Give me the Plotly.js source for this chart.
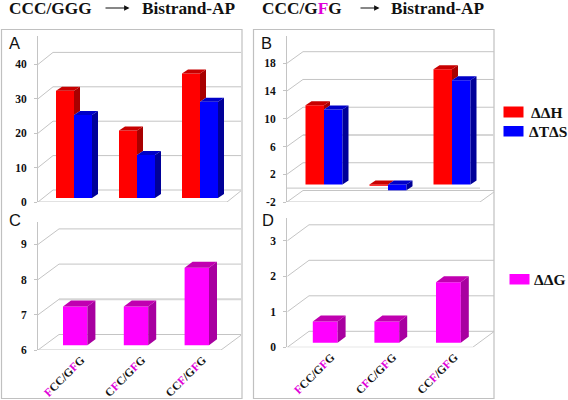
<!DOCTYPE html>
<html><head><meta charset="utf-8">
<script src="https://cdn.plot.ly/plotly-3.0.1.min.js"></script>
<style>html,body{margin:0;padding:0;background:#fff}#c{width:568px;height:400px}</style>
</head><body><div id="c"></div>
<script>
// ---- data ----
const enthalpyAB = [31.2, 19.6, 36.2];
const entropyAB  = [24.1, 12.5, 28.0];
const enthalpyGFG = [11.4, -0.2, 16.6];
const entropyGFG  = [10.8, -0.85, 15.0];
const freeEnergyC = [7.1, 7.1, 8.2];
const freeEnergyD = [0.6, 0.6, 1.7];
const ticksA = [0, 10, 20, 30, 40];
const ticksB = [-2, 2, 6, 10, 14, 18];
const ticksC = [6, 7, 8, 9];
const ticksD = [0, 1, 2, 3];
const M = 'color:#e000d8';
const categoryLabels = [
  `<span style="${M}">F</span>CC/G<span style="${M}">F</span>G`,
  `C<span style="${M}">F</span>C/G<span style="${M}">F</span>G`,
  `CC<span style="${M}">F</span>/G<span style="${M}">F</span>G`
];
const RED = {front:'#ff0000', top:'#c80000', side:'#a80000'};
const BLUE = {front:'#0000ff', top:'#0000c8', side:'#000098'};
const MAG = {front:'#ff00ff', top:'#c000b0', side:'#a800a0'};
const GRID = '#c4c4c4';
const SERIF = '"Liberation Serif", serif';

const W = 568, H = 400;
const X = p => p / W, Y = p => 1 - p / H;

// ---- panel geometry (pixels of the page) ----
const panels = [
 {id:'', letter:'A', frontX:38, rightX:241, floorRight:227, floorY:202, topY:36, unit:3.44, floor:0, wallDX:15, wallDY:12,
  barDX:6, barDY:4, lift:4, c0:74, pitch:63, barW:18, ticks:ticksA, zero:false,
  series:[{name:'ΔΔH',v:enthalpyAB,c:RED},{name:'ΔTΔS',v:entropyAB,c:BLUE}]},
 {id:'2', letter:'B', frontX:287, rightX:494, floorRight:480, floorY:202, topY:36, unit:6.94, floor:-2, wallDX:16, wallDY:11.5,
  barDX:6, barDY:4, lift:3.7, c0:324, pitch:64, barW:18.5, ticks:ticksB, zero:true, broad:6,
  series:[{name:'ΔΔH',v:enthalpyGFG,c:RED},{name:'ΔTΔS',v:entropyGFG,c:BLUE}]},
 {id:'3', letter:'C', frontX:38, rightX:241, floorRight:221, floorY:350, topY:222, unit:35.2, floor:6, wallDX:21, wallDY:15.5,
  barDX:8, barDY:6, lift:4.7, c0:75.2, pitch:60.8, barW:24.4, ticks:ticksC, labels:true, broad:7,
  series:[{name:'ΔΔG',v:freeEnergyC,c:MAG}]},
 {id:'4', letter:'D', frontX:287.3, rightX:494, floorRight:472.7, floorY:347.3, topY:218, unit:35.5, floor:0, wallDX:21.7, wallDY:16,
  barDX:8, barDY:6, lift:4.6, c0:325.2, pitch:61.6, barW:24.8, ticks:ticksD, labels:true,
  series:[{name:'ΔΔG',v:freeEnergyD,c:MAG}]}
];

const traces = [], shapes = [], annotations = [];
const layout = {width:W, height:H, margin:{l:0,r:0,t:0,b:0}, paper_bgcolor:'#fff', plot_bgcolor:'rgba(0,0,0,0)',
                showlegend:false, barmode:'overlay', hovermode:false};

panels.forEach(p => {
  const xa = 'x'+p.id, ya = 'y'+p.id;
  const xName = 'xaxis'+p.id, yName = 'yaxis'+p.id;
  const toX = px => (px - p.c0) / p.pitch;
  const dxu = d => d / p.pitch, dyu = d => d / p.unit;
  layout[xName] = {domain:[X(p.frontX), X(p.rightX)], range:[toX(p.frontX), toX(p.rightX)], anchor:ya,
    showgrid:false, zeroline:false, showline:false, fixedrange:true,
    tickmode:'array', tickvals:p.labels?[0.1,1.1,2.1]:[], ticktext:p.labels?categoryLabels:[],
    ticks:'', tickangle:-45, ticklen:0, ticklabelstandoff:0,
    tickfont:{family:SERIF, size:11.5, color:'#111', weight:700}};
  layout[yName] = {domain:[Y(p.floorY), Y(p.topY)], range:[p.floor, p.floor+(p.floorY-p.topY)/p.unit], anchor:xa,
    showgrid:false, zeroline:false, showline:true, linecolor:GRID, linewidth:1, fixedrange:true,
    tickmode:'array', tickvals:p.ticks, ticktext:p.ticks.map(String), ticks:'outside', ticklen:3, tickcolor:GRID,
    ticklabelstandoff:5, tickfont:{family:SERIF, size:11.5, color:'#111', weight:700}};

  // walls and floor, below the bars
  const x0 = toX(p.frontX), xR = toX(p.rightX), xF = toX(p.floorRight);
  const line = (a,b,c,d,col,wd) => shapes.push({type:'line', xref:xa, yref:ya, x0:a, y0:b, x1:c, y1:d, layer:'below', line:{color:col||GRID, width:wd||1}});
  p.ticks.forEach(t => {
    const wide = t === p.broad;
    line(x0, t, x0+dxu(p.wallDX), t+dyu(p.wallDY));
    line(x0+dxu(p.wallDX), t+dyu(p.wallDY), xR, t+dyu(p.wallDY), wide?'#d6d6d6':GRID, wide?2:1);
  });
  line(x0, p.floor, xF, p.floor);
  line(xF, p.floor, xF+dxu(p.rightX-p.floorRight), p.floor+dyu((p.rightX-p.floorRight)*p.wallDY/p.wallDX));
  if (p.zero) line(x0, 0, xF, 0);

  // bars
  const n = p.series.length, w = dxu(p.barW);
  const plane = p.floor > 0 ? p.floor : 0;
  const baseLevel = plane + dyu(p.lift);
  p.series.forEach((s,si) => {
    const off = n===1 ? -w/2 : (si===0 ? -w : 0);
    const cats = s.v.map((_,i)=>i);
    traces.push({type:'bar', name:s.name, xaxis:xa, yaxis:ya, x:cats, y:s.v.map(v=>v-plane), base:s.v.map(()=>baseLevel),
      width:w, offset:off, marker:{color:s.c.front, line:{width:0}}, hoverinfo:'skip'});
  });
  // top and side faces, computed from the same values
  const bdx = dxu(p.barDX), bdy = dyu(p.barDY);
  p.series.forEach((s,si) => {
    const off = n===1 ? -w/2 : (si===0 ? -w : 0);
    const tx=[],ty=[],sx=[],sy=[];
    const nextS = p.series[si+1];
    s.v.forEach((v,i) => {
      const h = v-plane, topL = baseLevel+Math.max(h,0);
      const xl=i+off, xr=xl+w;
      tx.push(xl,xr,xr+bdx,xl+bdx,xl,null); ty.push(topL,topL,topL+bdy,topL+bdy,topL,null);
      const lowL = nextS ? baseLevel+Math.max(nextS.v[i]-plane,0) : baseLevel+Math.min(h,0);
      sx.push(xr,xr+bdx,xr+bdx,xr,xr,null); sy.push(topL,topL+bdy,lowL+bdy,lowL,topL,null);
    });
    traces.push({type:'scatter',mode:'lines',xaxis:xa,yaxis:ya,x:sx,y:sy,fill:'toself',fillcolor:s.c.side,line:{width:0,color:s.c.side},hoverinfo:'skip'});
    traces.push({type:'scatter',mode:'lines',xaxis:xa,yaxis:ya,x:tx,y:ty,fill:'toself',fillcolor:s.c.top,line:{width:0,color:s.c.top},hoverinfo:'skip'});
  });
});

// panel frames
[[1.5,242],[253.5,494]].forEach(f => shapes.push({type:'rect',xref:'paper',yref:'paper',x0:X(f[0]),x1:X(f[1]),y0:Y(398.5),y1:Y(29.5),layer:'below',line:{color:'#c0c0c0',width:1.2}}));

// panel letters
const letter = (t,x,y)=>annotations.push({text:t,xref:'paper',yref:'paper',x:X(x),y:Y(y),xanchor:'left',yanchor:'middle',showarrow:false,font:{family:'"Liberation Sans",sans-serif',size:16.5,color:'#111'}});
letter('A',7,43); letter('B',259,43); letter('C',7,220); letter('D',260,220);

// headers
const head = (t,x)=>annotations.push({text:t,xref:'paper',yref:'paper',x:X(x),y:Y(8),xanchor:'left',yanchor:'middle',showarrow:false,font:{family:SERIF,size:17.3,color:'#111',weight:700}});
head('CCC/GGG',6.5); head('Bistrand-AP',140);
head('CCC/G<span style="color:#e000d8">F</span>G',259.5); head('Bistrand-AP',388.5);
const arrow = (x1,x2)=>annotations.push({text:'',xref:'paper',yref:'paper',x:X(x2),y:Y(8),ax:x1-x2,ay:0,showarrow:true,arrowhead:2,arrowsize:0.9,arrowwidth:1.2,arrowcolor:'#111'});
arrow(104,129.5); arrow(359,379.5);

// key
const key = (label,c,x0,x1,y0,y1,tx)=>{
  shapes.push({type:'rect',xref:'paper',yref:'paper',x0:X(x0),x1:X(x1),y0:Y(y1),y1:Y(y0),line:{width:0},fillcolor:c});
  annotations.push({text:label,xref:'paper',yref:'paper',x:X(tx),y:Y((y0+y1)/2),xanchor:'center',yanchor:'middle',showarrow:false,font:{family:SERIF,size:15.5,color:'#111',weight:700}});
};
key('ΔΔH',RED.front,503.5,523.5,106.5,117.5,547);
key('ΔTΔS',BLUE.front,503.5,523.5,126,136.5,548);
key('ΔΔG',MAG.front,509.5,529.5,274,284.5,549.5);

layout.shapes = shapes; layout.annotations = annotations;
Plotly.newPlot('c', traces, layout, {staticPlot:true, displayModeBar:false});
</script>
</body></html>
